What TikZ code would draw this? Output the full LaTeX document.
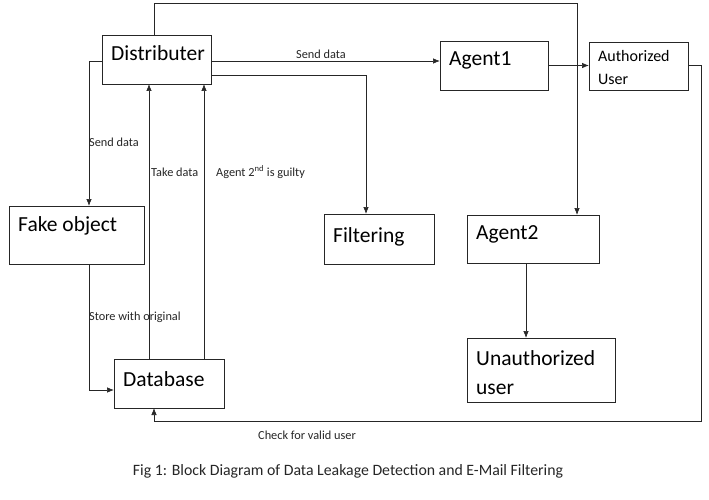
\documentclass[tikz,border=0pt]{standalone}
\usepackage{fontspec}
\setmainfont{Carlito}
\usetikzlibrary{arrows.meta}
\begin{document}
\begin{tikzpicture}[x=1pt,y=-1pt,
  box/.style={draw=black!85,line width=0.8pt,rectangle,inner sep=0pt,outer sep=0pt},
  big/.style={anchor=west,inner sep=0pt,font=\fontsize{21.5}{24}\selectfont},
  mid/.style={anchor=west,inner sep=0pt,font=\fontsize{16}{19}\selectfont},
  small/.style={anchor=west,inner sep=0pt,font=\fontsize{12.3}{14}\selectfont,text=black!85},
  arr/.style={draw=black!85,line width=0.7pt,-{Latex[length=7pt,width=5.5pt]}},
  ln/.style={draw=black!85,line width=0.7pt}]
\useasboundingbox[fill=white] (0,0) rectangle (709,500);
% boxes
\node[box,minimum width=109pt,minimum height=49pt] (dist) at (156.5,59.5) {};
\node[box,minimum width=108pt,minimum height=49pt] (agent1) at (494,65.5) {};
\node[box,minimum width=99pt,minimum height=48pt] (auth) at (638.5,66) {};
\node[box,minimum width=135pt,minimum height=58pt] (fake) at (76.5,235) {};
\node[box,minimum width=110pt,minimum height=50pt] (filter) at (379,239) {};
\node[box,minimum width=132pt,minimum height=48pt] (agent2) at (533,239) {};
\node[box,minimum width=148pt,minimum height=64pt] (unauth) at (541,370) {};
\node[box,minimum width=110pt,minimum height=49pt] (db) at (169,383.5) {};
% box texts
\node[big] (tdist) at (111,53) {Distributer};
\node[big] (tagent1) at (449,60) {Agent1};
\node[mid] (tauth1) at (598,56) {Authorized};
\node[mid] (tauth2) at (598,79) {User};
\node[big] (tfake) at (18,226) {Fake object};
\node[big] (tfilter) at (333,237) {Filtering};
\node[big] (tagent2) at (476,234) {Agent2};
\node[big] (tun1) at (476,358) {Unauthorized};
\node[big] (tun2) at (476,389) {user};
\node[big] (tdb) at (123,379) {Database};
% helper coordinates
\coordinate (tl) at (154,3);
\coordinate (tr) at (577,3);
\coordinate (s1) at (0,61);
\coordinate (fb) at (366,75);
\coordinate (r1) at (701,65);
\coordinate (r2) at (701,421);
\coordinate (r3) at (154,421);
\coordinate (l1) at (89,61);
\coordinate (l2) at (89,390);
\coordinate (u1) at (149,0);
\coordinate (u2) at (204,0);
\coordinate (a2) at (526,0);
% connectors
\draw[arr] (dist.north -| tl) -- (tl) -- (tr) -- (agent2.north -| tr);
\draw[arr] (dist.east |- s1) -- (agent1.west |- s1);
\draw[arr] (dist.east |- fb) -- (fb) -- (filter.north -| fb);
\draw[arr] (agent1.east) -- (agent1.east -| auth.west);
\draw[arr] (auth.east |- r1) -- (r1) -- (r2) -- (r3) -- (db.south -| r3);
\draw[arr] (dist.west |- l1) -- (l1) -- (fake.north -| l1);
\draw[arr] (fake.south -| l2) -- (l2) -- (db.west |- l2);
\draw[arr] (db.north -| u1) -- (dist.south -| u1);
\draw[arr] (db.north -| u2) -- (dist.south -| u2);
\draw[arr] (agent2.south -| a2) -- (unauth.north -| a2);
% labels
\node[small] (lsend1) at (296,54) {Send data};
\node[small] (lsend2) at (89,142) {Send data};
\node[small] (ltake) at (151,172) {Take data};
\node[small] (lguilty) at (216,172) {Agent 2\textsuperscript{nd} is guilty};
\node[small] (lstore) at (89,317) {Store with original};
\node[small] (lcheck) at (258,435) {Check for valid user};
\node[anchor=center,inner sep=0pt,font=\fontsize{15.8}{18}\selectfont,text=black!85] (cap) at (348,471) {Fig 1: Block Diagram of Data Leakage Detection and E-Mail Filtering};
\end{tikzpicture}
\end{document}
